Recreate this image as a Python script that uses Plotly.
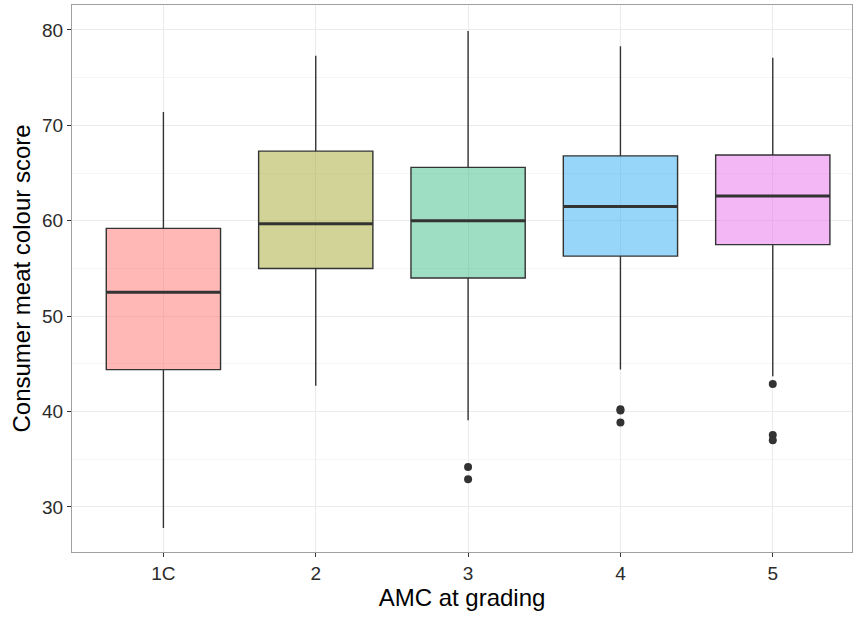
import plotly.graph_objects as go

# AMC grading groups and box summary statistics
categories = ["1C", "2", "3", "4", "5"]
q1 = [44.4, 55.0, 54.0, 56.3, 57.5]
median = [52.5, 59.7, 60.0, 61.5, 62.6]
q3 = [59.2, 67.3, 65.6, 66.8, 66.9]
lower_whisker = [27.8, 42.7, 39.1, 44.4, 43.7]
upper_whisker = [71.4, 77.3, 79.9, 78.3, 77.1]

# Outlying observations per group
outlier_groups = ["3", "3", "4", "4", "4", "5", "5", "5"]
outlier_values = [34.2, 32.9, 40.25, 40.1, 38.85, 42.9, 37.55, 37.0]

fills = ["#FF716D", "#A5A72D", "#3DBF87", "#31ADF3", "#E76FED"]

box_width = 0.75
positions = list(range(1, len(categories) + 1))
pos_of = dict(zip(categories, positions))


def rgba(hex_colour, alpha):
    h = hex_colour.lstrip("#")
    r, g, b = int(h[0:2], 16), int(h[2:4], 16), int(h[4:6], 16)
    return f"rgba({r},{g},{b},{alpha})"


fig = go.Figure()

for i, cat in enumerate(categories):
    fig.add_trace(go.Box(
        x=[positions[i]],
        q1=[q1[i]], median=[median[i]], q3=[q3[i]],
        lowerfence=[lower_whisker[i]], upperfence=[upper_whisker[i]],
        width=box_width,
        whiskerwidth=0,
        fillcolor=rgba(fills[i], 0.5),
        line=dict(color="#333333", width=1.4),
        boxpoints=False,
        showlegend=False,
        hoverinfo="skip",
    ))
    # thicker median bar
    fig.add_trace(go.Scatter(
        x=[positions[i] - box_width / 2, positions[i] + box_width / 2],
        y=[median[i], median[i]],
        mode="lines",
        line=dict(color="#333333", width=3),
        showlegend=False,
        hoverinfo="skip",
    ))

fig.add_trace(go.Scatter(
    x=[pos_of[g] for g in outlier_groups],
    y=outlier_values,
    mode="markers",
    marker=dict(color="#333333", size=8),
    showlegend=False,
    hoverinfo="skip",
))

font_family = "Liberation Sans, Arial, Helvetica, sans-serif"

fig.update_layout(
    width=853,
    height=617,
    margin=dict(l=72, r=1, t=5, b=65),
    paper_bgcolor="white",
    plot_bgcolor="white",
    font=dict(family=font_family, color="#333333"),
    xaxis=dict(
        range=[0.4, 5.52],
        tickmode="array",
        tickvals=positions,
        ticktext=categories,
        showgrid=True,
        gridcolor="#EBEBEB",
        gridwidth=1,
        zeroline=False,
        showline=True,
        linecolor="#A0A0A0",
        linewidth=1,
        mirror=True,
        ticks="outside",
        ticklen=4,
        tickcolor="#333333",
        tickfont=dict(size=19, color="#2B2B2B"),
        title=dict(text="AMC at grading", font=dict(size=24, color="#000000"), standoff=2),
    ),
    yaxis=dict(
        range=[25.28, 82.62],
        tickmode="array",
        tickvals=[30, 40, 50, 60, 70, 80],
        showgrid=True,
        gridcolor="#EBEBEB",
        gridwidth=1,
        minor=dict(tickvals=[35, 45, 55, 65, 75], showgrid=True, gridcolor="#F5F5F5", gridwidth=1),
        zeroline=False,
        showline=True,
        linecolor="#A0A0A0",
        linewidth=1,
        mirror=True,
        ticks="outside",
        ticklen=4,
        tickcolor="#333333",
        tickfont=dict(size=19, color="#2B2B2B"),
        title=dict(text="Consumer meat colour score", font=dict(size=24, color="#000000"), standoff=4),
    ),
)

fig.write_html("out.html")
